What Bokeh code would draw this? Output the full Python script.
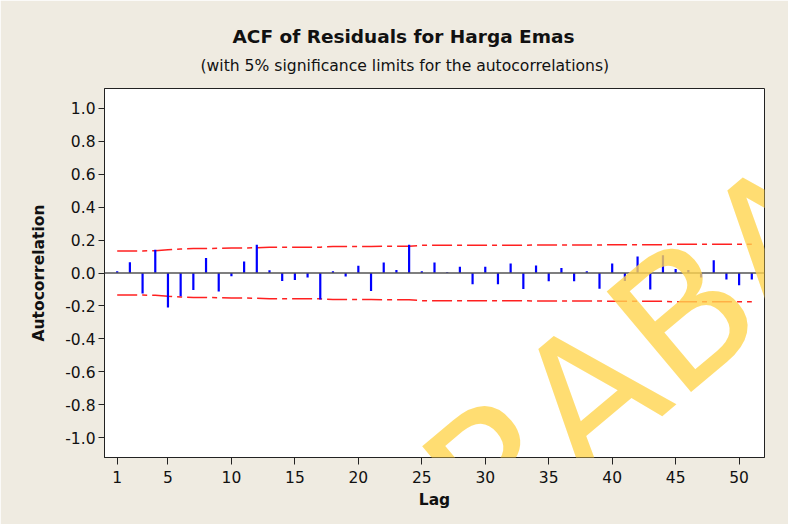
from bokeh.plotting import figure
from bokeh.models import Range1d, FixedTicker, Span, Title, Label, NumeralTickFormatter
from bokeh.embed import file_html
from bokeh.resources import INLINE

# ---- data ----
lags = list(range(1, 52))
acf = [0.010, 0.065, -0.125, 0.141, -0.210, -0.141, -0.103, 0.091, -0.113, -0.020,
       0.070, 0.171, 0.016, -0.048, -0.042, -0.028, -0.161, 0.010, -0.022, 0.044,
       -0.109, 0.064, 0.018, 0.171, 0.010, 0.064, 0.005, 0.038, -0.069, 0.038,
       -0.069, 0.058, -0.097, 0.046, -0.050, 0.030, -0.050, 0.010, -0.095, 0.058,
       -0.048, 0.100, -0.100, 0.107, 0.024, 0.018, -0.028, 0.077, -0.040, -0.075,
       -0.040]
upper_limit = [0.134, 0.134, 0.134, 0.135, 0.141, 0.146, 0.148, 0.149, 0.150, 0.152,
               0.152, 0.153, 0.156, 0.157, 0.157, 0.157, 0.157, 0.161, 0.161, 0.161,
               0.161, 0.163, 0.163, 0.163, 0.168, 0.168, 0.168, 0.168, 0.168, 0.168,
               0.168, 0.168, 0.168, 0.170, 0.170, 0.170, 0.170, 0.170, 0.170, 0.172,
               0.172, 0.172, 0.172, 0.172, 0.175, 0.175, 0.175, 0.175, 0.175, 0.175,
               0.175]
lower_limit = [-u for u in upper_limit]
x_ticks = [1, 5, 10, 15, 20, 25, 30, 35, 40, 45, 50]
y_ticks = [-1.0, -0.8, -0.6, -0.4, -0.2, 0.0, 0.2, 0.4, 0.6, 0.8, 1.0]

BG = "#efebe1"
FONT = "DejaVu Sans"

p = figure(width=788, height=524, output_backend="svg", toolbar_location=None,
           x_range=Range1d(0, 52), y_range=Range1d(-1.12, 1.12),
           min_border_left=104, min_border_right=24, min_border_top=88, min_border_bottom=67,
           background_fill_color="white", border_fill_color=BG,
           outline_line_color="#222222", outline_line_width=1)
p.title.visible = False

sub = Title(text="(with 5% significance limits for the autocorrelations)", align="left",
            offset=96, standoff=27, text_font=FONT, text_font_size="15.6px",
            text_font_style="normal", text_color="#111111")
main = Title(text="ACF of Residuals for Harga Emas", align="left", offset=128, standoff=-10,
             text_font=FONT, text_font_size="18.5px", text_font_style="bold",
             text_color="#111111")
p.add_layout(sub, "above")
p.add_layout(main, "above")

p.xgrid.visible = False
p.ygrid.visible = False

# zero line
p.add_layout(Span(location=0, dimension="width", line_color="#555555", line_width=1.5))

# limits
p.line(lags, upper_limit, line_color="#ff2020", line_width=1.5, line_dash="20 5 5 5")
p.line(lags, lower_limit, line_color="#ff2020", line_width=1.5, line_dash="20 5 5 5")

# ACF bars
p.segment(x0=lags, y0=[0] * len(lags), x1=lags, y1=acf, line_color="#0000ff", line_width=2.2)

# axes
p.xaxis.ticker = FixedTicker(ticks=x_ticks)
p.yaxis.ticker = FixedTicker(ticks=y_ticks)
p.yaxis.formatter = NumeralTickFormatter(format="0.0")
for ax in (p.xaxis[0], p.yaxis[0]):
    ax.major_label_text_font = FONT
    ax.major_label_text_font_size = "15.5px"
    ax.major_label_text_color = "#111111"
    ax.axis_label_text_font = FONT
    ax.axis_label_text_font_size = "15.5px"
    ax.axis_label_text_font_style = "bold"
    ax.axis_label_text_color = "#111111"
    ax.minor_tick_line_color = None
    ax.major_tick_in = 0
    ax.axis_line_color = "#222222"
    ax.major_tick_line_color = "#222222"
p.xaxis.axis_label = "Lag"
p.yaxis.axis_label = "Autocorrelation"
p.xaxis.major_tick_out = 7
p.yaxis.major_tick_out = 6
p.xaxis.major_label_standoff = 6
p.yaxis.major_label_standoff = 3
p.xaxis.axis_label_standoff = 5
p.yaxis.axis_label_standoff = 14

# watermark
wm = Label(x=12.6, y=-2.40, text="SURABAYA", angle=40, angle_units="deg",
           text_font=FONT, text_font_size="180px", text_font_style="normal",
           text_color="#ffd54f", text_alpha=0.8, text_baseline="middle", text_align="left")
p.add_layout(wm)

html = file_html(p, INLINE)
open("out.html", "w").write(html)
